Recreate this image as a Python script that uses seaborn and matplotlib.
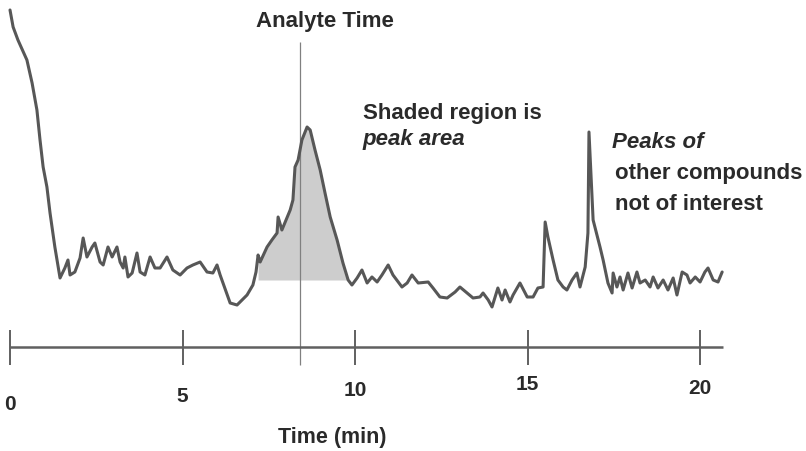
import numpy as np
import pandas as pd
import matplotlib
matplotlib.use("Agg")
import matplotlib.pyplot as plt
import seaborn as sns

# Detector trace: retention time (min) and detector signal (arbitrary units)
time_min = [
    0.00, 0.09, 0.23, 0.49, 0.64, 0.78, 0.87, 0.96, 1.07, 1.16, 1.30, 1.45,
    1.59, 1.68, 1.74, 1.88, 2.03, 2.12, 2.23, 2.38, 2.46, 2.61, 2.70, 2.84,
    2.96, 3.10, 3.19, 3.28, 3.33, 3.42, 3.54, 3.68, 3.77, 3.91, 4.06, 4.20,
    4.35, 4.55, 4.72, 4.93, 5.13, 5.30, 5.51, 5.71, 5.88, 6.00, 6.09, 6.38,
    6.58, 6.87, 7.04, 7.13, 7.19, 7.25, 7.45, 7.59, 7.74, 7.77, 7.88, 8.12,
    8.20, 8.26, 8.35, 8.46, 8.61, 8.70, 8.84, 8.99, 9.13, 9.28, 9.48, 9.65,
    9.80, 9.91, 10.06, 10.20, 10.35, 10.49, 10.64, 10.78, 10.96, 11.10, 11.36,
    11.51, 11.65, 11.83, 12.12, 12.26, 12.46, 12.67, 12.90, 13.04, 13.25,
    13.42, 13.62, 13.71, 13.86, 13.97, 14.06, 14.14, 14.26, 14.35, 14.49,
    14.58, 14.78, 14.99, 15.16, 15.30, 15.45, 15.51, 15.59, 15.74, 15.88,
    16.03, 16.14, 16.29, 16.43, 16.52, 16.67, 16.75, 16.78, 16.90, 17.10,
    17.19, 17.33, 17.45, 17.48, 17.59, 17.68, 17.77, 17.91, 18.03, 18.17,
    18.26, 18.41, 18.55, 18.64, 18.78, 18.93, 19.07, 19.22, 19.33, 19.48,
    19.62, 19.71, 19.86, 20.00, 20.14, 20.23, 20.38, 20.52, 20.64,
]
signal = [
    33.7, 32.0, 30.7, 28.7, 26.4, 23.7, 20.7, 18.0, 16.0, 13.4, 10.0, 6.9,
    7.9, 8.7, 7.2, 7.5, 8.9, 10.9, 9.0, 10.0, 10.4, 8.5, 8.2, 10.0,
    9.0, 10.0, 8.5, 7.9, 9.0, 7.0, 7.4, 9.4, 7.5, 7.2, 9.0, 7.9,
    7.9, 9.0, 7.7, 7.2, 7.9, 8.2, 8.5, 7.5, 7.4, 8.2, 7.2, 4.4,
    4.2, 5.2, 6.2, 7.5, 9.2, 8.5, 10.0, 10.7, 11.4, 13.0, 11.7, 13.7,
    14.7, 18.0, 18.7, 20.7, 22.0, 21.7, 19.7, 17.7, 15.4, 13.0, 10.7, 8.4,
    6.7, 6.2, 6.9, 7.7, 6.4, 7.0, 6.5, 7.2, 8.2, 7.2, 6.0,
    6.4, 7.2, 6.4, 6.5, 5.9, 5.0, 4.9, 5.5, 6.0, 5.4,
    4.9, 5.0, 5.4, 4.7, 4.0, 5.0, 5.9, 4.7, 5.7, 4.5,
    5.2, 6.4, 5.0, 5.0, 5.9, 6.0, 12.5, 11.0, 8.7, 6.7,
    6.0, 5.7, 6.7, 7.4, 6.0, 8.0, 11.4, 21.5, 12.7, 10.0,
    8.7, 6.4, 5.4, 7.4, 6.0, 7.0, 5.7, 7.4, 5.9, 7.5,
    6.4, 6.7, 6.0, 7.0, 5.9, 6.7, 5.7, 6.9, 5.2, 7.5,
    7.2, 6.4, 7.0, 6.5, 7.5, 7.9, 6.7, 6.5, 7.5,
]

analyte_time = 8.4
peak_window = [7.19, 9.80]
peak_floor = 6.7

tick_values = [0, 5, 10, 15, 20]
tick_labels = ["0", "5", "10", "15", "20"]
tick_label_levels = [-5.8, -4.9, -4.4, -3.8, -4.1]
axis_end = 20.65

sns.set_style("white")
plt.rcParams["font.family"] = ["Liberation Sans", "DejaVu Sans"]

ink = "#575757"
text_color = "#2a2a2a"
fig = plt.figure(figsize=(8.06, 4.51), dpi=100)
ax = fig.add_axes([0, 0, 1, 1])

df = pd.DataFrame({"Time (min)": time_min, "Signal": signal})
sns.lineplot(data=df, x="Time (min)", y="Signal", sort=False, color=ink,
             linewidth=2.2, ax=ax, zorder=3)

# Shaded peak area above the local baseline
t = np.asarray(time_min)
s = np.asarray(signal)
sel = (t >= peak_window[0]) & (t <= peak_window[1])
ax.fill_between(t[sel], s[sel], peak_floor, color="#cdcdcd", lw=0, zorder=1)

# Analyte retention time marker
ax.vlines(analyte_time, -1.8, 30.5, color="#808080", lw=0.9, zorder=2)

# Hand-drawn style time axis
ax.hlines(0, 0, axis_end, color="#606060", lw=1.8, zorder=2)
ax.vlines(tick_values, -1.8, 1.7, color="#606060", lw=1.4, zorder=2)
for v, lab, lev in zip(tick_values, tick_labels, tick_label_levels):
    ax.text(v, lev, lab, ha="center", va="center", fontsize=15,
            fontweight="bold", color=text_color)
ax.text(9.33, -9.0, "Time (min)", ha="center", va="center", fontsize=15.5,
        fontweight="bold", color=text_color)

# Annotations
txt = dict(fontsize=16, fontweight="bold", color=text_color, va="center")
ax.text(9.13, 32.6, "Analyte Time", ha="center", **txt)
ax.text(10.23, 23.3, "Shaded region is", ha="left", **txt)
ax.text(10.23, 20.7, "peak area", ha="left", style="italic", **txt)
ax.text(17.45, 20.5, "Peaks of", ha="left", style="italic", **txt)
ax.text(17.54, 17.4, "other compounds", ha="left", **txt)
ax.text(17.54, 14.2, "not of interest", ha="left", **txt)

ax.set_xlim(-0.29, 23.07)
ax.set_ylim(-10.4, 34.7)
ax.set_axis_off()

fig.savefig("out.png", dpi=100)
